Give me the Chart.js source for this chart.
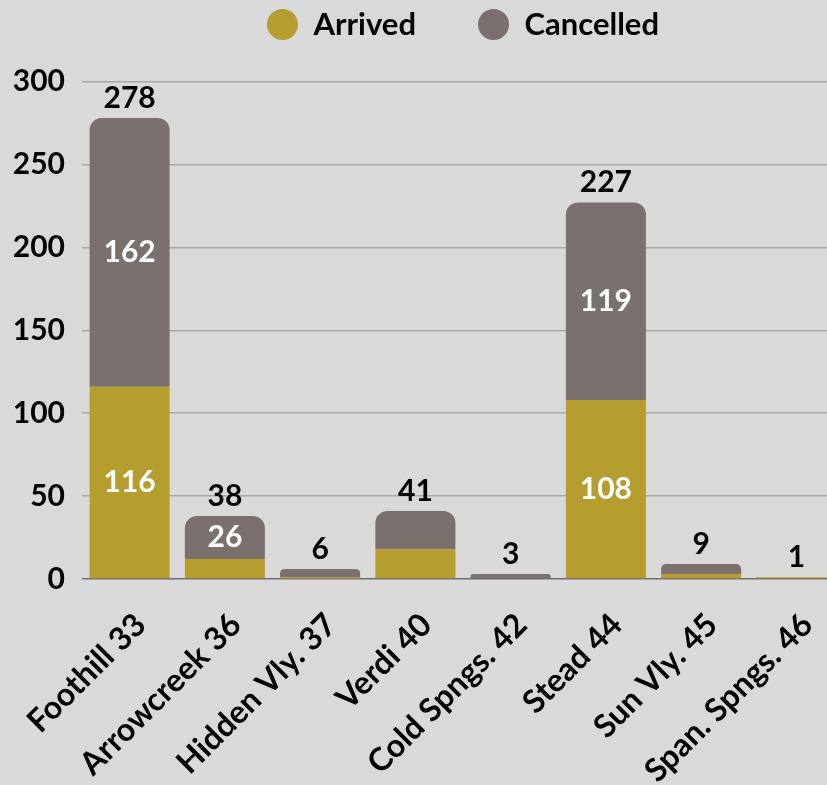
<!DOCTYPE html>
<html>
<head>
<meta charset="utf-8">
<script src="https://cdn.jsdelivr.net/npm/chart.js@4"></script>
<style>
  html, body { margin: 0; padding: 0; background: #d9d9d9; overflow: hidden; }
  #wrap { width: 827px; height: 785px; overflow: hidden; position: relative; }
  #box { width: 844px; height: 785px; position: absolute; left: 0; top: 0; }
</style>
</head>
<body>
<div id="wrap"><div id="box"><canvas id="c"></canvas></div></div>
<script>
const categories = ["Foothill 33", "Arrowcreek 36", "Hidden Vly. 37", "Verdi 40", "Cold Spngs. 42", "Stead 44", "Sun Vly. 45", "Span. Spngs. 46"];
const arrived = [116, 12, 1, 18, 0, 108, 3, 1];
const cancelled = [162, 26, 5, 23, 3, 119, 6, 0];
const yTicks = [0, 50, 100, 150, 200, 250, 300];

const FONT = "Lato";
const W = "bold";
const GOLD = "#b59d30";
const GRAY = "#7a706d";

const labelPlugin = {
  id: "stackLabels",
  afterDatasetsDraw(chart) {
    const ctx = chart.ctx;
    const yScale = chart.scales.y;
    ctx.save();
    ctx.textAlign = "center";
    ctx.textBaseline = "middle";
    ctx.font = W + " 30px " + FONT;
    chart.data.datasets.forEach((ds, di) => {
      const meta = chart.getDatasetMeta(di);
      meta.data.forEach((bar, i) => {
        const v = ds.data[i];
        if (v >= 25) {
          ctx.fillStyle = "#ffffff";
          ctx.fillText(String(v), bar.x, (bar.y + bar.base) / 2);
        }
      });
    });
    const meta0 = chart.getDatasetMeta(0);
    meta0.data.forEach((bar, i) => {
      const total = arrived[i] + cancelled[i];
      const y = yScale.getPixelForValue(total);
      ctx.fillStyle = "#000000";
      ctx.fillText(String(total), bar.x, y - 20);
    });
    ctx.restore();
  }
};

new Chart(document.getElementById("c"), {
  type: "bar",
  data: {
    labels: categories,
    datasets: [
      { label: "Arrived", data: arrived, backgroundColor: GOLD, borderWidth: 0 },
      { label: "Cancelled", data: cancelled, backgroundColor: GRAY, borderWidth: 0,
        borderRadius: { topLeft: 12, topRight: 12, bottomLeft: 0, bottomRight: 0 }, borderSkipped: "start" }
    ]
  },
  options: {
    responsive: true,
    maintainAspectRatio: false,
    animation: false,
    layout: { padding: { top: -53, left: 0, right: 0, bottom: 0 } },
    datasets: { bar: { barPercentage: 0.84, categoryPercentage: 1.0 } },
    plugins: {
      tooltip: { enabled: false },
      legend: {
        position: "top",
        fullSize: false,
        labels: {
          usePointStyle: true,
          pointStyle: "circle",
          pointStyleWidth: 31,
          boxWidth: 31,
          boxHeight: 22,
          padding: 62,
          color: "#000",
          font: { family: FONT, size: 31, weight: W }
        }
      }
    },
    scales: {
      x: {
        stacked: true,
        grid: { display: false, drawTicks: false },
        border: { display: false },
        ticks: {
          minRotation: 45, maxRotation: 45, autoSkip: false, padding: 27, labelOffset: 11,
          color: "#000",
          font: { family: FONT, size: 32, weight: W }
        },
        afterFit(s) { s.height = 206; s.paddingLeft = 0; s.paddingRight = 0; }
      },
      y: {
        stacked: true,
        min: 0, max: 319,
        afterBuildTicks(s) { s.ticks = yTicks.map(v => ({ value: v })); },
        grid: {
          color: (c) => c.tick && c.tick.value === 0 ? "#6e6e6e" : "#a8a8a8",
          lineWidth: 1.5,
          drawTicks: false
        },
        border: { display: false },
        ticks: {
          padding: 17,
          color: "#000",
          font: { family: FONT, size: 30, weight: W }
        },
        afterFit(s) { s.width = 82; s.paddingTop = 0; s.paddingBottom = 0; }
      }
    }
  },
  plugins: [labelPlugin]
});
</script>
</body>
</html>
